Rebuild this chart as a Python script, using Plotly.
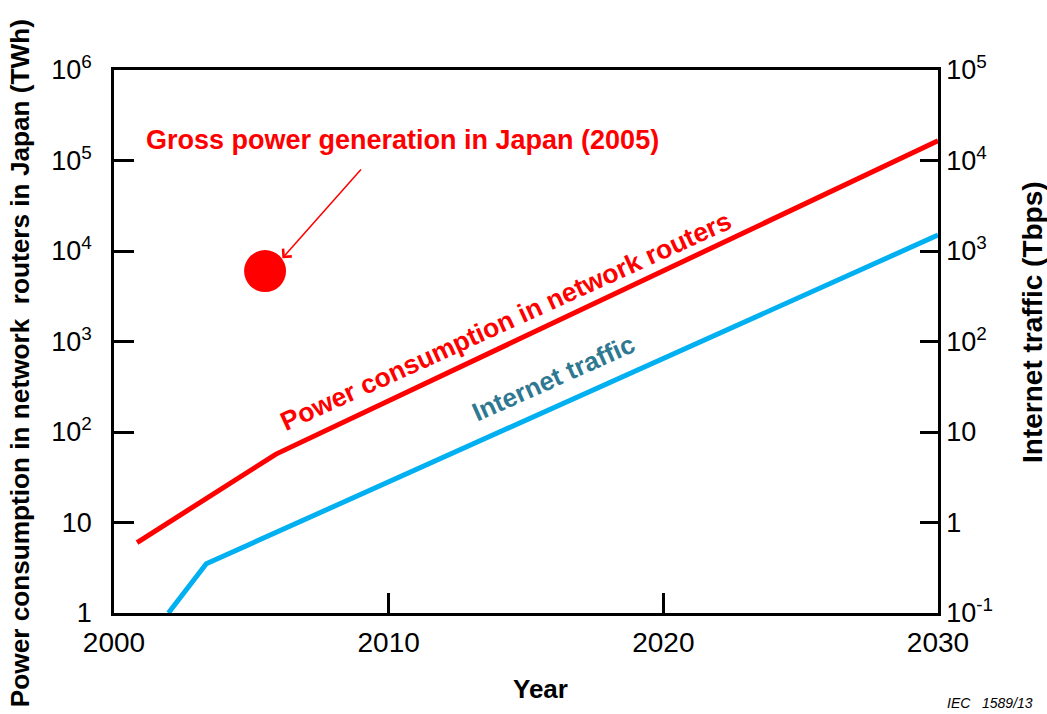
import plotly.graph_objects as go

# ---- data ----
power_years = [2000.84, 2005.9, 2030]
power_twh = [6.0, 57, 1.65e5]

traffic_years = [2001.98, 2003.36, 2030]
traffic_tbps = [0.1, 0.35, 1500]

gross_year = [2005.5]
gross_twh = [6000]

x_ticks = [2000, 2010, 2020, 2030]
left_tickvals = [1, 10, 100, 1e3, 1e4, 1e5, 1e6]
left_ticktext = ["1", "10", "10<sup>2</sup>", "10<sup>3</sup>", "10<sup>4</sup>", "10<sup>5</sup>", "10<sup>6</sup>"]
right_tickvals = [0.1, 1, 10, 100, 1e3, 1e4, 1e5]
right_ticktext = ["10<sup>-1</sup>", "1", "10", "10<sup>2</sup>", "10<sup>3</sup>", "10<sup>4</sup>", "10<sup>5</sup>"]

RED = "#ff0000"
BLUE = "#00b0f0"
TEAL = "#2f7891"
FONT = "Arial, Liberation Sans, sans-serif"

fig = go.Figure()
fig.add_trace(go.Scatter(x=power_years, y=power_twh, mode="lines",
                         line=dict(color=RED, width=5), yaxis="y", showlegend=False))
fig.add_trace(go.Scatter(x=traffic_years, y=traffic_tbps, mode="lines",
                         line=dict(color=BLUE, width=5), yaxis="y2", showlegend=False))
fig.add_trace(go.Scatter(x=gross_year, y=gross_twh, mode="markers",
                         marker=dict(color=RED, size=42, line=dict(width=0)),
                         yaxis="y", showlegend=False))

axis_common = dict(showline=True, linecolor="black", linewidth=2.5, ticks="inside",
                   tickwidth=2.5, tickcolor="black", showgrid=False, zeroline=False)

fig.update_layout(
    width=1047, height=714,
    margin=dict(l=114, r=109, t=70, b=101),
    paper_bgcolor="white", plot_bgcolor="white",
    font=dict(family=FONT, color="black"),
    xaxis=dict(range=[2000, 2030], tickvals=x_ticks, ticklen=20, mirror=True,
               ticklabelstandoff=3, tickfont=dict(family=FONT, size=28, color="black"),
               **axis_common),
    yaxis=dict(type="log", range=[0, 6], tickvals=left_tickvals, ticktext=left_ticktext,
               ticklen=20, ticklabelstandoff=14,
               tickfont=dict(family=FONT, size=27, color="black"), **axis_common),
    yaxis2=dict(type="log", range=[-1, 5], tickvals=right_tickvals, ticktext=right_ticktext,
                overlaying="y", side="right", ticklen=18, ticklabelstandoff=0,
                tickfont=dict(family=FONT, size=27, color="black"), **axis_common),
)

C = dict(xanchor="center", yanchor="middle", showarrow=False)
anns = [
    dict(text="<b>Gross power generation in Japan (2005)</b>", x=2010.49, y=5.226,
         xref="x", yref="y", font=dict(size=27, color=RED, family=FONT), **C),
    dict(text="", x=2006.13, y=3.92, ax=2009.04, ay=4.917, xref="x", yref="y",
         axref="x", ayref="y", showarrow=True, arrowhead=4, arrowsize=1.5,
         arrowwidth=1.5, arrowcolor=RED),
    dict(text="<b>Power consumption in network routers</b>", x=2014.28, y=3.225,
         xref="x", yref="y", textangle=-24.5,
         font=dict(size=26.5, color=RED, family=FONT), **C),
    dict(text="<b>Internet traffic</b>", x=2016.0, y=2.595,
         xref="x", yref="y", textangle=-24,
         font=dict(size=26, color=TEAL, family=FONT), **C),
    dict(text="<b>Power consumption in network\u00a0 routers in Japan (TWh)</b>",
         x=-0.1141, y=0.46, xref="paper", yref="paper", textangle=-90,
         font=dict(size=26.2, color="black", family=FONT), **C),
    dict(text="<b>Internet traffic (Tbps)</b>", x=1.1153, y=0.536, xref="paper", yref="paper",
         textangle=-90, font=dict(size=28, color="black", family=FONT), **C),
    dict(text="<b>Year</b>", x=0.517, y=-0.14, xref="paper", yref="paper",
         font=dict(size=26, color="black", family=FONT), **C),
    dict(text="<i>IEC\u00a0\u00a0 1589/13</i>", x=1.0631, y=-0.1657, xref="paper", yref="paper",
         font=dict(size=14, color="black", family=FONT), **C),
]
fig.update_layout(annotations=anns)

fig.write_html(
    "out.html",
    config={"displayModeBar": False},
    post_script="document.body.style.margin='0';document.body.style.overflow='hidden';",
)
